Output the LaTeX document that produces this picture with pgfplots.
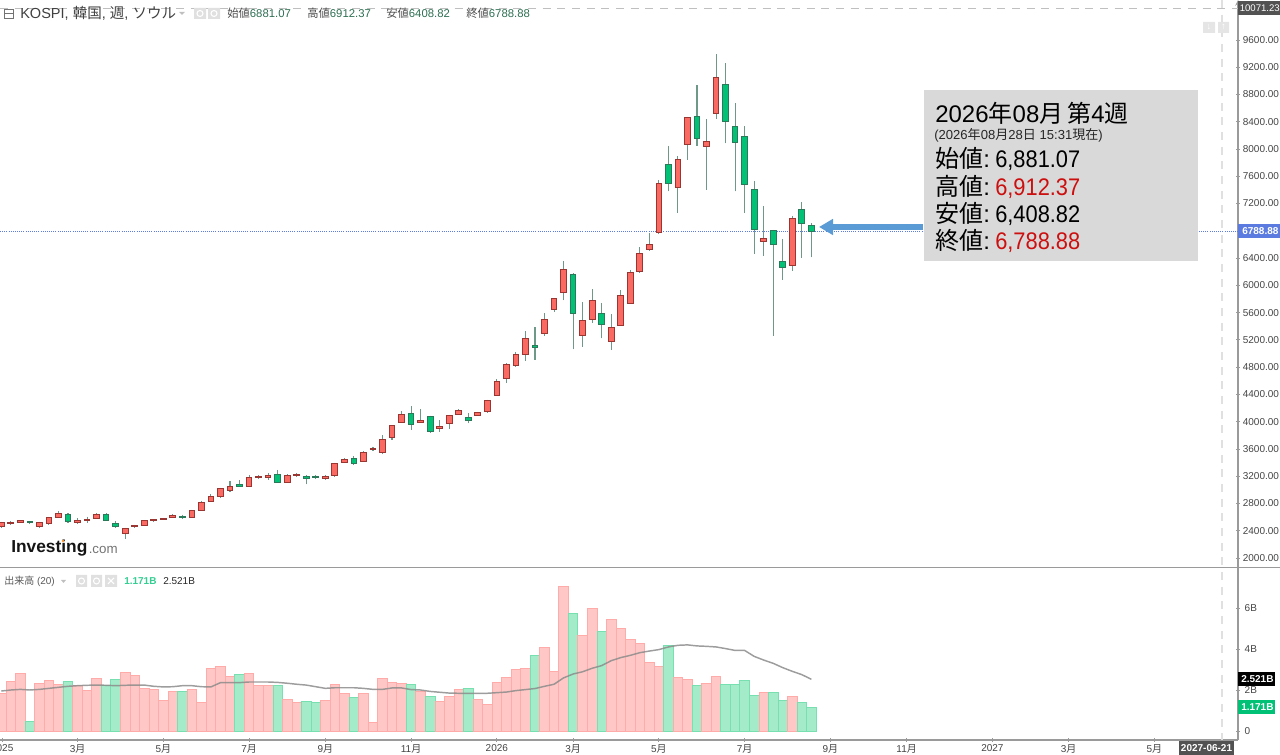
\documentclass[border=0pt]{standalone}
\usepackage{fontspec}
\usepackage{pgfplots}
\usepackage{pgfplotstable}
\pgfplotsset{compat=1.18}
\usepgfplotslibrary{statistics}
\usetikzlibrary{arrows.meta}
\setmainfont{Liberation Sans}
\newfontfamily\cjk{Noto Sans CJK JP}
\newfontfamily\narrow[FakeStretch=0.91]{Liberation Sans}
\definecolor{upfill}{HTML}{FB6A62}
\definecolor{upline}{HTML}{9A3632}
\definecolor{dnfill}{HTML}{00C176}
\definecolor{dnline}{HTML}{2A7A5A}
\definecolor{wick}{HTML}{6E9888}
\definecolor{volup}{HTML}{FFC8C6}
\definecolor{volupl}{HTML}{FFABA9}
\definecolor{voldn}{HTML}{A3EBC9}
\definecolor{voldnl}{HTML}{78DFB0}
\definecolor{axisgray}{HTML}{9A9A9A}
\definecolor{ticktext}{HTML}{444444}
\definecolor{headgreen}{HTML}{2E6F52}
\definecolor{pricered}{HTML}{CC0F0F}
\definecolor{boxgray}{HTML}{D9D9D9}
\definecolor{arrowblue}{HTML}{5B9BD5}
\definecolor{priceblue}{HTML}{5B7BE0}
\pgfplotstableread{
i o h l c v ma
0 2455 2533 2445 2523 1.85 1.95
1 2504 2538 2489 2523 2.44 2.00
2 2528 2553 2518 2543 2.81 2.03
3 2538 2543 2504 2518 0.46 2.00
4 2465 2533 2445 2523 2.33 2.03
5 2504 2606 2499 2597 2.47 2.08
6 2597 2689 2592 2660 2.26 2.13
7 2636 2655 2523 2533 2.42 2.18
8 2518 2587 2513 2557 2.23 2.21
9 2557 2606 2518 2572 2.00 2.23
10 2582 2655 2577 2645 2.55 2.24
11 2636 2660 2548 2557 2.24 2.23
12 2509 2538 2440 2465 2.52 2.21
13 2357 2445 2284 2435 2.88 2.23
14 2455 2489 2450 2484 2.72 2.24
15 2479 2557 2474 2548 2.08 2.24
16 2543 2572 2533 2562 2.03 2.18
17 2567 2587 2562 2577 1.50 2.15
18 2597 2645 2592 2626 1.93 2.16
19 2611 2636 2587 2592 1.93 2.21
20 2597 2709 2592 2699 2.03 2.21
21 2699 2841 2694 2812 1.38 2.16
22 2831 2939 2826 2900 3.06 2.15
23 2895 3032 2890 3022 3.14 2.36
24 2988 3130 2983 3051 2.67 2.36
25 3076 3139 3042 3051 2.76 2.36
26 3051 3218 3046 3174 2.81 2.39
27 3174 3213 3159 3193 2.23 2.39
28 3188 3247 3149 3208 2.20 2.39
29 3227 3291 3105 3110 2.24 2.37
30 3110 3227 3105 3213 1.54 2.33
31 3213 3242 3193 3227 1.41 2.28
32 3198 3213 3081 3164 1.45 2.24
33 3193 3218 3164 3183 1.38 2.16
34 3159 3218 3149 3198 1.50 2.08
35 3208 3399 3203 3389 2.26 2.11
36 3403 3462 3399 3438 1.84 2.11
37 3462 3496 3369 3389 1.64 2.11
38 3418 3565 3413 3550 1.84 2.08
39 3589 3633 3570 3609 0.42 2.03
40 3550 3800 3521 3741 2.59 2.03
41 3765 3951 3736 3946 2.37 2.10
42 3990 4152 3980 4108 2.33 2.10
43 4122 4230 3878 3956 2.26 2.02
44 3990 4186 3985 4010 1.92 2.00
45 4083 4088 3835 3850 1.67 1.93
46 3907 4024 3848 3922 1.43 1.89
47 3971 4103 3897 4093 1.71 1.85
48 4108 4181 4098 4171 2.03 1.84
49 4059 4127 3976 4020 2.08 1.84
50 4093 4147 4088 4137 1.54 1.84
51 4147 4323 4137 4313 1.30 1.84
52 4386 4626 4381 4587 2.37 1.87
53 4636 4856 4567 4841 2.62 1.90
54 4826 5017 4807 4988 3.01 1.97
55 4988 5325 4895 5218 3.06 2.02
56 5120 5384 4905 5090 3.69 2.07
57 5291 5589 5262 5506 4.08 2.18
58 5648 5814 5614 5804 2.93 2.28
59 5897 6357 5780 6235 7.04 2.59
60 6161 6176 5061 5584 5.74 2.78
61 5267 5751 5100 5482 4.68 2.89
62 5506 5941 5452 5780 5.98 3.06
63 5584 5741 5222 5428 4.86 3.19
64 5179 5575 5051 5384 5.45 3.43
65 5418 5927 5408 5858 5.01 3.58
66 5736 6225 5731 6191 4.47 3.69
67 6210 6557 6186 6474 4.28 3.82
68 6523 6763 6518 6592 3.35 3.90
69 6778 7545 6748 7496 3.14 3.97
70 7775 8044 7379 7487 4.18 4.10
71 7433 7892 7066 7848 2.62 4.18
72 8064 8474 7844 8465 2.52 4.20
73 8479 8939 8044 8152 2.20 4.15
74 8039 8435 7403 8113 2.31 4.13
75 8518 9394 8445 9051 2.67 4.10
76 8949 9257 8083 8406 2.26 4.02
77 8328 8675 7379 8093 2.26 3.93
78 8176 8337 7061 7472 2.47 3.93
79 7408 7531 6460 6817 1.74 3.64
80 6641 7164 6430 6690 1.89 3.46
81 6802 6812 5262 6592 1.89 3.30
82 6352 6680 6083 6264 1.50 3.09
83 6298 7012 6215 6983 1.71 2.91
84 7115 7222 6406 6905 1.40 2.75
85 6881.07 6912.37 6408.82 6788.88 1.171 2.521
}\kospi
\pgfplotsset{
  candleup/.style={draw=upline,fill=upfill,line width=0.75pt,mark=none,
    boxplot/every whisker/.style={draw=wick,line width=0.8pt}},
  candledn/.style={draw=dnline,fill=dnfill,line width=0.75pt,mark=none,
    boxplot/every whisker/.style={draw=wick,line width=0.8pt}},
  barup/.style={ybar,bar shift=0pt,bar width=7.15pt,fill=volup,draw=volupl,line width=0.6pt},
  bardn/.style={ybar,bar shift=0pt,bar width=7.15pt,fill=voldn,draw=voldnl,line width=0.6pt},
  panel/.style={scale only axis,width=928.5pt,clip=false,xmin=-0.136,xmax=129.77,
    axis line style={draw=axisgray,line width=0.9pt},
    tick style={draw=axisgray,line width=0.6pt},
    major tick length=3pt,
    tick align=outside,
    /pgf/number format/assume math mode=true,
    tick label style={font=\fontsize{7.5}{9}\selectfont,text=ticktext}},
}
\begin{document}
\begin{tikzpicture}
\useasboundingbox (0,0) rectangle (960pt,566.25pt);
\clip (0,0) rectangle (960pt,566.25pt);
\begin{axis}[panel,at={(0,141pt)},anchor=south west,height=425.25pt,
  ymin=1868,ymax=10186,
  axis x line=none,axis y line=right,
  ytick={2000,2400,2800,3200,3600,4000,4400,4800,5200,5600,6000,6400,7200,7600,8000,8400,8800,9200,9600},
  scaled y ticks=false,
  y tick label style={xshift=-1.4pt,/pgf/number format/.cd,fixed,fixed zerofill,precision=2,1000 sep={},/tikz/.cd},
  boxplot/draw direction=y,
  boxplot/box extend=0.6,
  boxplot/whisker extend=0,
]
\addplot[priceblue,line width=0.6pt,densely dotted,forget plot] coordinates {(-0.136,6788.88)(129.77,6788.88)};
\pgfplotsforeachungrouped \i in {0,...,85}{
  \pgfplotstablegetelem{\i}{o}\of\kospi \let\vo\pgfplotsretval
  \pgfplotstablegetelem{\i}{h}\of\kospi \let\vh\pgfplotsretval
  \pgfplotstablegetelem{\i}{l}\of\kospi \let\vl\pgfplotsretval
  \pgfplotstablegetelem{\i}{c}\of\kospi \let\vc\pgfplotsretval
  \ifdim\vc pt>\vo pt
    \edef\temp{\noexpand\addplot[candleup,boxplot prepared={draw position=\i,lower whisker=\vl,lower quartile=\vo,median=\vo,upper quartile=\vc,upper whisker=\vh}] coordinates {};}
  \else
    \edef\temp{\noexpand\addplot[candledn,boxplot prepared={draw position=\i,lower whisker=\vl,lower quartile=\vc,median=\vc,upper quartile=\vo,upper whisker=\vh}] coordinates {};}
  \fi
  \temp
}
\end{axis}
\begin{axis}[panel,at={(0,11.25pt)},anchor=south west,height=129pt,
  ymin=-0.439,ymax=7.951,
  axis x line=bottom,axis y line=right,
  axis line style={-},
  ytick={0,2,4,6},yticklabels={0,2B,4B,6B},
  xtick={0.1,8,17,26,34,43,52,60,69,78,87,95,104,112,121},
  xticklabels={2025,3{\cjk 月},5{\cjk 月},7{\cjk 月},9{\cjk 月},11{\cjk 月},2026,3{\cjk 月},5{\cjk 月},7{\cjk 月},9{\cjk 月},11{\cjk 月},2027,3{\cjk 月},5{\cjk 月}},
  x tick label style={yshift=1.6pt},
]
\pgfplotsforeachungrouped \i in {0,...,85}{
  \pgfplotstablegetelem{\i}{o}\of\kospi \let\vo\pgfplotsretval
  \pgfplotstablegetelem{\i}{c}\of\kospi \let\vc\pgfplotsretval
  \pgfplotstablegetelem{\i}{v}\of\kospi \let\vv\pgfplotsretval
  \ifdim\vc pt>\vo pt
    \edef\temp{\noexpand\addplot[barup] coordinates {(\i,\vv)};}
  \else
    \edef\temp{\noexpand\addplot[bardn] coordinates {(\i,\vv)};}
  \fi
  \temp
}
\addplot[black!45,opacity=0.85,line width=1.1pt,mark=none] table[x=i,y=ma]{\kospi};
\end{axis}
% overlays, coordinates in reference pixels from the top left
\begin{scope}[shift={(0,566.25pt)},x=0.75pt,y=-0.75pt]
% separators and crosshair
\draw[axisgray,line width=0.9pt] (0,567.5)--(1280,567.5);
\draw[black!25,line width=0.7pt,dash pattern=on 6pt off 5pt] (0,8)--(1238,8);
\draw[black!12,line width=0.9pt,dash pattern=on 6pt off 5pt] (1222,0)--(1222,740);
% header
\draw[black!55,line width=0.5pt] (4,9) rectangle (13,18) (4,13.5)--(13,13.5);
\node[anchor=west,inner sep=0,text=black!75,font=\fontsize{10.9}{12}\selectfont] at (20,13.5) {KOSPI, {\cjk 韓国}, {\cjk 週}, {\cjk ソウル}};
\fill[black!25] (179,12)--(185,12)--(182,15)--cycle;
\fill[black!12] (194,8) rectangle (206,19) (208,8) rectangle (220,19);
\draw[white,line width=0.8pt] (200,13.5) circle (3) (214,13.5) circle (3);
\node[anchor=west,inner sep=0,font=\fontsize{8.5}{10}\selectfont] at (227,13.5) {{\cjk\color{black!70}始値}\textcolor{headgreen}{6881.07}};
\node[anchor=west,inner sep=0,font=\fontsize{8.5}{10}\selectfont] at (307,13.5) {{\cjk\color{black!70}高値}\textcolor{headgreen}{6912.37}};
\node[anchor=west,inner sep=0,font=\fontsize{8.5}{10}\selectfont] at (386,13.5) {{\cjk\color{black!70}安値}\textcolor{headgreen}{6408.82}};
\node[anchor=west,inner sep=0,font=\fontsize{8.5}{10}\selectfont] at (466,13.5) {{\cjk\color{black!70}終値}\textcolor{headgreen}{6788.88}};
% logo
\node[anchor=west,inner sep=0,text=black!92,font=\fontsize{13}{15}\bfseries\selectfont] at (11,548.5) {Investing};
\node[anchor=west,inner sep=0,text=black!55,font=\fontsize{10}{12}\selectfont] at (88.5,550) {.com};
\fill[orange!80] (63,541) circle (1.3);
% zoom buttons
\fill[black!10] (1203,22) rectangle (1215,33) (1218,22) rectangle (1229,33);
\node[inner sep=0,text=white,font=\fontsize{7}{8}\bfseries\selectfont] at (1209,27.5) {↓};
\node[inner sep=0,text=white,font=\fontsize{7}{8}\bfseries\selectfont] at (1223.5,27.5) {↑};
% tags
\fill[black!68] (1238,1) rectangle (1280,15);
\node[inner sep=0,anchor=west,text=white,font=\fontsize{7.2}{9}\selectfont] at (1239.5,8) {10071.23};
\fill[priceblue] (1238,224.5) rectangle (1280,238);
\node[inner sep=0,anchor=west,text=white,font=\fontsize{7.5}{9}\bfseries\selectfont] at (1242,231.5) {6788.88};
\fill[black] (1238,672) rectangle (1275,686);
\node[inner sep=0,anchor=west,text=white,font=\fontsize{7.5}{9}\bfseries\selectfont] at (1241,679) {2.521B};
\fill[dnfill] (1238,700) rectangle (1275,714);
\node[inner sep=0,anchor=west,text=white,font=\fontsize{7.5}{9}\bfseries\selectfont] at (1241,707) {1.171B};
\fill[black!68] (1179,741) rectangle (1234,755);
\node[inner sep=0,text=white,font=\fontsize{7.5}{9}\bfseries\selectfont] at (1206.5,748.5) {2027-06-21};
% volume header
\node[anchor=west,inner sep=0,text=black!65,font=\fontsize{7.5}{9}\selectfont] at (4,581) {{\cjk 出来高} (20)};
\fill[black!25] (61,580)--(66,580)--(63.5,583)--cycle;
\fill[black!12] (76,575) rectangle (87,587) (91,575) rectangle (102,587) (105,575) rectangle (117,587);
\draw[white,line width=0.8pt] (81.5,581) circle (3) (96.5,581) circle (3) (108,578)--(114,584) (114,578)--(108,584);
\node[anchor=west,inner sep=0,text=dnfill!80,font=\fontsize{7.5}{9}\bfseries\selectfont] at (124,581) {1.171B};
\node[anchor=west,inner sep=0,text=black!85,font=\fontsize{7.5}{9}\selectfont] at (163,581) {2.521B};
% annotation
\draw[arrowblue,line width=4.2pt,-{Triangle[length=10.5pt,width=11.5pt]}] (923,227)--(819,227);
\fill[boxgray] (924,90) rectangle (1198,261);
\node[anchor=west,inner sep=0,font=\fontsize{18}{20}\selectfont] at (935,113) {2026{\cjk 年}08{\cjk 月}\,{\cjk 第}4{\cjk 週}};
\node[anchor=west,inner sep=0,text=black!85,font=\fontsize{9.8}{11}\selectfont] at (934,135) {(2026{\cjk 年}08{\cjk 月}28{\cjk 日} 15:31{\cjk 現在})};
\node[anchor=west,inner sep=0,font=\fontsize{18}{20}\selectfont] at (935,159) {{\cjk 始値}:\hspace{4pt}\narrow 6,881.07};
\node[anchor=west,inner sep=0,font=\fontsize{18}{20}\selectfont] at (935,186.5) {{\cjk 高値}:\hspace{4pt}\narrow\textcolor{pricered}{6,912.37}};
\node[anchor=west,inner sep=0,font=\fontsize{18}{20}\selectfont] at (935,214) {{\cjk 安値}:\hspace{4pt}\narrow 6,408.82};
\node[anchor=west,inner sep=0,font=\fontsize{18}{20}\selectfont] at (935,241) {{\cjk 終値}:\hspace{4pt}\narrow\textcolor{pricered}{6,788.88}};
\end{scope}
\end{tikzpicture}
\end{document}
